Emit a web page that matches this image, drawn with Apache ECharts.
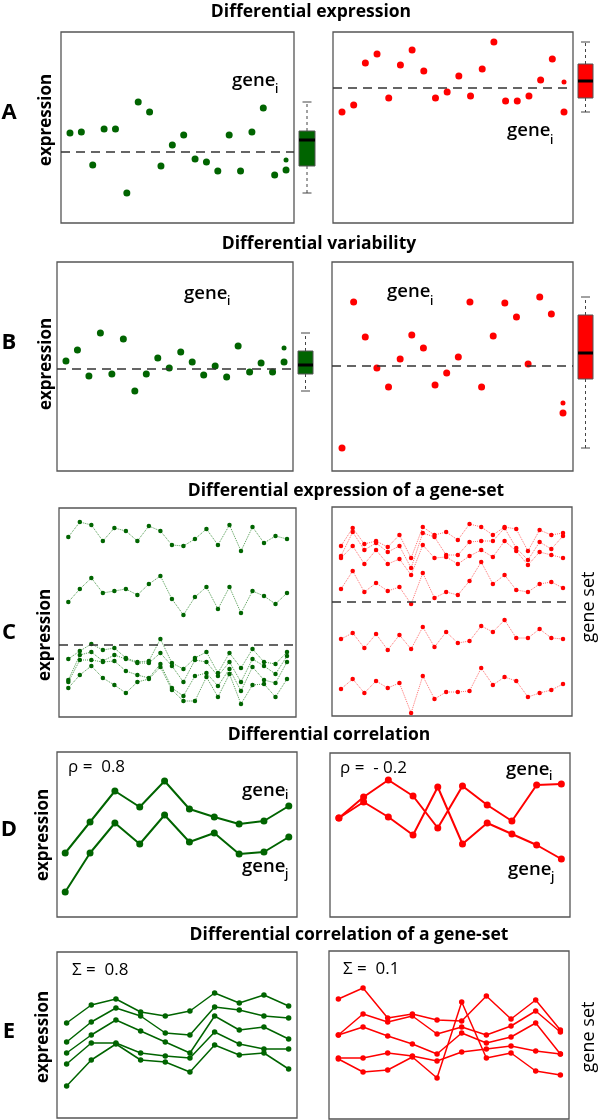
<!DOCTYPE html>
<html><head><meta charset="utf-8">
<script src="https://cdn.jsdelivr.net/npm/echarts@6/dist/echarts.min.js"></script>
<style>html,body{margin:0;padding:0;background:#fff}#c{width:600px;height:1120px}</style>
</head><body><div id="c"></div>
<script>
// ---------- Panel A : differential expression ----------
const aLeft  = [90,91,58,94,94,30,121,111,57,78,88,64,61,52,88,52,91,115,48,53];
const aLeftExtra = 63;
const aLeftRef = 71;
const aLeftBox = [30,57,83,92,121];          // min, Q1, median, Q3, max
const aRight = [111,118,160,169,125,158,173,152,125,131,147,127,154,181,122,122,127,143,164,111];
const aRightExtra = 141;
const aRightRef = 135;
const aRightBox = [111,125,142,159,181];
// ---------- Panel B : differential variability ----------
const bLeft  = [110,121,95,138,97,132,80,97,113,103,119,109,96,105,94,125,99,108,99,109];
const bLeftExtra = 123;
const bLeftRef = 102;
const bLeftBox = [80,97,106,120,138];
const bRight = [23,169,134,103,84,112,136,123,86,98,114,169,84,135,168,154,107,174,157,58];
const bRightExtra = 68;
const bRightRef = 105;
const bRightBox = [23,92,118,156,174];
// ---------- Panel C : gene-set expression ----------
const cLeft1 = [180,195,192,176,189,186,176,191,186,172,171,178,188,172,192,166,190,174,181,178];
const cLeft2 = [115,128,139,124,126,128,122,133,141,118,102,120,130,108,130,104,126,121,113,124];
const cLeft3 = [58,66,73,67,69,59,55,56,78,54,48,59,65,44,64,49,68,55,53,65];
const cLeft4 = [37,62,65,56,62,58,54,54,64,51,35,57,55,41,55,35,58,51,43,61];
const cLeft5 = [35,57,57,55,56,46,42,39,53,29,21,41,44,31,48,26,50,37,34,55];
const cLeft6 = [29,42,51,39,32,24,35,38,50,27,16,16,40,20,43,13,32,33,20,38];
const cLeftRef = 72;
const cRight1 = [170,188,172,175,169,181,158,189,181,184,176,192,189,181,189,187,165,186,181,183];
const cRight2 = [160,184,166,173,164,170,148,183,179,161,161,174,175,175,188,168,156,174,167,180];
const cRight3 = [158,170,152,166,152,157,141,171,158,159,152,160,166,159,175,165,151,164,161,158];
const cRight4 = [127,145,124,133,125,129,112,143,118,124,121,135,154,132,141,126,124,132,134,128];
const cRight5 = [77,83,68,82,66,81,67,89,69,84,73,75,90,84,96,78,78,87,78,77];
const cRight6 = [27,37,23,35,28,33,3,40,17,24,24,25,48,31,39,35,19,23,26,32];
const cRightRef = 114;
// ---------- Panel D : differential correlation ----------
const dLeftGeneI  = [64,95,126,110,136,108,100,93,96,111];
const dLeftGeneJ  = [25,64,94,73,102,75,84,63,65,80];
const dRightGeneI = [99,120,137,121,89,131,112,96,132,133];
const dRightGeneJ = [99,115,100,82,130,73,94,83,72,58];
// ---------- Panel E : gene-set correlation ----------
const eLeft1 = [95,113,119,106,102,107,125,115,123,112];
const eLeft2 = [76,96,110,102,85,83,111,108,102,100];
const eLeft3 = [65,83,98,87,76,65,102,88,91,79];
const eLeft4 = [54,75,75,65,62,60,86,74,69,69];
const eLeft5 = [32,58,74,58,56,46,73,63,65,49];
const eRight1 = [120,131,101,105,99,98,123,100,119,89];
const eRight2 = [84,105,97,103,85,92,84,93,108,87];
const eRight3 = [84,92,83,75,65,86,76,82,96,65];
const eRight4 = [61,61,66,63,58,67,70,73,68,65];
const eRight5 = [60,47,49,62,41,117,61,66,48,44];

const GREEN = '#006400', RED = '#ff0000';
const FONT = '"Open Sans", "DejaVu Sans", sans-serif';

const grids = [], xAxes = [], yAxes = [], series = [];
function panel(l, t, w, h, xmin, xmax, frame) {
  const i = grids.length;
  grids.push({left: l, top: t, width: w, height: h, show: frame, borderColor: '#555', borderWidth: 1.3, backgroundColor: 'transparent'});
  xAxes.push({type: 'value', gridIndex: i, min: xmin, max: xmax, show: false});
  yAxes.push({type: 'value', gridIndex: i, min: 0, max: h, show: false});
  return i;
}
const pts = arr => arr.map((v, k) => [k, v]);
function scatter(g, arr, color, size) {
  series.push({type: 'scatter', xAxisIndex: g, yAxisIndex: g, data: pts(arr), symbolSize: size, itemStyle: {color, opacity: 1}, silent: true});
}
function refLine(g, val) {
  series.push({type: 'line', xAxisIndex: g, yAxisIndex: g, data: [], silent: true,
    markLine: {silent: true, symbol: 'none', label: {show: false},
      lineStyle: {color: '#333', width: 1.5, type: [9, 6]}, data: [{yAxis: val}]}});
}
function extra(g, val, color) {
  series.push({type: 'scatter', xAxisIndex: g, yAxisIndex: g, data: [[19, val]], symbolSize: 5, itemStyle: {color, opacity: 1}, silent: true});
}
function box(g, stats, color) {
  series.push({type: 'custom', xAxisIndex: g, yAxisIndex: g, silent: true, data: [[0].concat(stats)],
    renderItem: function (params, api) {
      const x0 = api.coord([-1, 0])[0], x1 = api.coord([1, 0])[0];
      const cx = (x0 + x1) / 2;
      const y = k => api.coord([0, api.value(k)])[1];
      const yMin = y(1), yQ1 = y(2), yMed = y(3), yQ3 = y(4), yMax = y(5);
      const dash = {stroke: '#444', lineWidth: 1, lineDash: [3, 3]};
      const solid = {stroke: '#444', lineWidth: 1};
      return {type: 'group', children: [
        {type: 'line', shape: {x1: cx, y1: yQ3, x2: cx, y2: yMax}, style: dash},
        {type: 'line', shape: {x1: cx, y1: yQ1, x2: cx, y2: yMin}, style: dash},
        {type: 'line', shape: {x1: cx - 4.5, y1: yMax, x2: cx + 4.5, y2: yMax}, style: solid},
        {type: 'line', shape: {x1: cx - 4.5, y1: yMin, x2: cx + 4.5, y2: yMin}, style: solid},
        {type: 'rect', shape: {x: x0, y: yQ3, width: x1 - x0, height: yQ1 - yQ3}, style: {fill: color, stroke: '#555', lineWidth: 1}},
        {type: 'line', shape: {x1: x0, y1: yMed, x2: x1, y2: yMed}, style: {stroke: '#000', lineWidth: 3}}
      ]};
    }});
}
function dotted(g, arr, color, lineColor) {
  series.push({type: 'line', xAxisIndex: g, yAxisIndex: g, data: pts(arr), silent: true,
    symbol: 'circle', symbolSize: 4.5, showSymbol: true, itemStyle: {color, opacity: 1},
    lineStyle: {color: lineColor, width: 1, type: 'dotted'}});
}
function solidLine(g, arr, color, width, size) {
  series.push({type: 'line', xAxisIndex: g, yAxisIndex: g, data: pts(arr), silent: true,
    symbol: 'circle', symbolSize: size, showSymbol: true, itemStyle: {color, opacity: 1},
    lineStyle: {color, width}});
}

// Panel A
const gAL = panel(61, 32, 233, 191, -0.79, 19.7, true);
const gAR = panel(333, 32, 240, 191, -0.77, 19.77, true);
const gALb = panel(299, 32, 16, 191, -1, 1, false);
const gARb = panel(578, 32, 15, 191, -1, 1, false);
scatter(gAL, aLeft, GREEN, 7); extra(gAL, aLeftExtra, GREEN); refLine(gAL, aLeftRef);
scatter(gAR, aRight, RED, 7); extra(gAR, aRightExtra, RED); refLine(gAR, aRightRef);
box(gALb, aLeftBox, GREEN); box(gARb, aRightBox, RED);
// Panel B
const gBL = panel(57, 262, 236, 209, -0.78, 19.78, true);
const gBR = panel(332, 262, 241, 209, -0.86, 19.86, true);
const gBLb = panel(298, 262, 15, 209, -1, 1, false);
const gBRb = panel(578, 262, 15, 209, -1, 1, false);
scatter(gBL, bLeft, GREEN, 7); extra(gBL, bLeftExtra, GREEN); refLine(gBL, bLeftRef);
scatter(gBR, bRight, RED, 7); extra(gBR, bRightExtra, RED); refLine(gBR, bRightRef);
box(gBLb, bLeftBox, GREEN); box(gBRb, bRightBox, RED);
// Panel C
const gCL = panel(59, 508, 237, 209, -0.81, 19.78, true);
const gCR = panel(332, 507, 240, 209, -0.77, 19.77, true);
[cLeft1, cLeft2, cLeft3, cLeft4, cLeft5, cLeft6].forEach(a => dotted(gCL, a, GREEN, '#4f9a4f'));
refLine(gCL, cLeftRef);
[cRight1, cRight2, cRight3, cRight4, cRight5, cRight6].forEach(a => dotted(gCR, a, RED, '#ff7070'));
refLine(gCR, cRightRef);
// Panel D
const gDL = panel(57, 752, 240, 165, -0.33, 9.33, true);
const gDR = panel(330, 753, 240, 164, -0.36, 9.35, true);
solidLine(gDL, dLeftGeneI, GREEN, 2, 7); solidLine(gDL, dLeftGeneJ, GREEN, 2, 7);
solidLine(gDR, dRightGeneI, RED, 2, 7); solidLine(gDR, dRightGeneJ, RED, 2, 7);
// Panel E
const gEL = panel(57, 952, 240, 166, -0.39, 9.34, true);
const gER = panel(329, 951, 240, 168, -0.38, 9.35, true);
[eLeft1, eLeft2, eLeft3, eLeft4, eLeft5].forEach(a => solidLine(gEL, a, GREEN, 1.5, 5.5));
[eRight1, eRight2, eRight3, eRight4, eRight5].forEach(a => solidLine(gER, a, RED, 1.5, 5.5));

// ---------- texts ----------
const g = [];
function txt(s, x, y, font, align, rot) {
  g.push({type: 'text', x, y, rotation: rot || 0, silent: true,
    style: {text: s, font, fill: '#000', align: align || 'left', verticalAlign: 'middle',
      textAlign: align || 'left', textVerticalAlign: 'middle'}});
}
const titleFont = 'bold 17.5px ' + FONT;
txt('Differential expression', 311, 12, titleFont, 'center');
txt('Differential variability', 319, 244, titleFont, 'center');
txt('Differential expression of a gene-set', 346, 491, titleFont, 'center');
txt('Differential correlation', 329, 735, titleFont, 'center');
txt('Differential correlation of a gene-set', 349, 935, titleFont, 'center');
const letterFont = 'bold 22px ' + FONT;
[['A', 113], ['B', 343], ['C', 633], ['D', 830], ['E', 1032]].forEach(p => txt(p[0], 9, p[1], letterFont, 'center'));
const expFont = 'bold 17px ' + FONT;
[[46, 120], [46, 364], [45, 635], [43, 835], [43, 1037]].forEach(p => txt('expression', p[0], p[1], expFont, 'center', Math.PI / 2));
const setFont = '18px ' + FONT;
txt('gene set', 589, 607, setFont, 'center', Math.PI / 2);
txt('gene set', 589, 1037, setFont, 'center', Math.PI / 2);
const geneFont = '600 18.5px ' + FONT, subFont = '600 12px ' + FONT;
function gene(x, y, sub, sy) { txt('gene', x, y, geneFont); txt(sub, x + 43, sy, subFont); }
gene(232, 81, 'i', 90);
gene(507, 131, 'i', 141);
gene(184, 294, 'i', 302);
gene(387, 292, 'i', 302);
gene(242, 791, 'i', 796);
gene(242, 867, 'j', 875);
gene(506, 770, 'i', 777);
gene(508, 870, 'j', 878);
const statFont = '17px ' + FONT;
txt('\u03C1 =  0.8', 68, 767, statFont);
txt('\u03C1 =  - 0.2', 340, 768, statFont);
txt('\u03A3 =  0.8', 72, 970, statFont);
txt('\u03A3 =  0.1', 343, 969, statFont);

const chart = echarts.init(document.getElementById('c'), null, {renderer: 'canvas'});
chart.setOption({animation: false, backgroundColor: '#fff', grid: grids, xAxis: xAxes, yAxis: yAxes, series, graphic: g});
</script></body></html>
